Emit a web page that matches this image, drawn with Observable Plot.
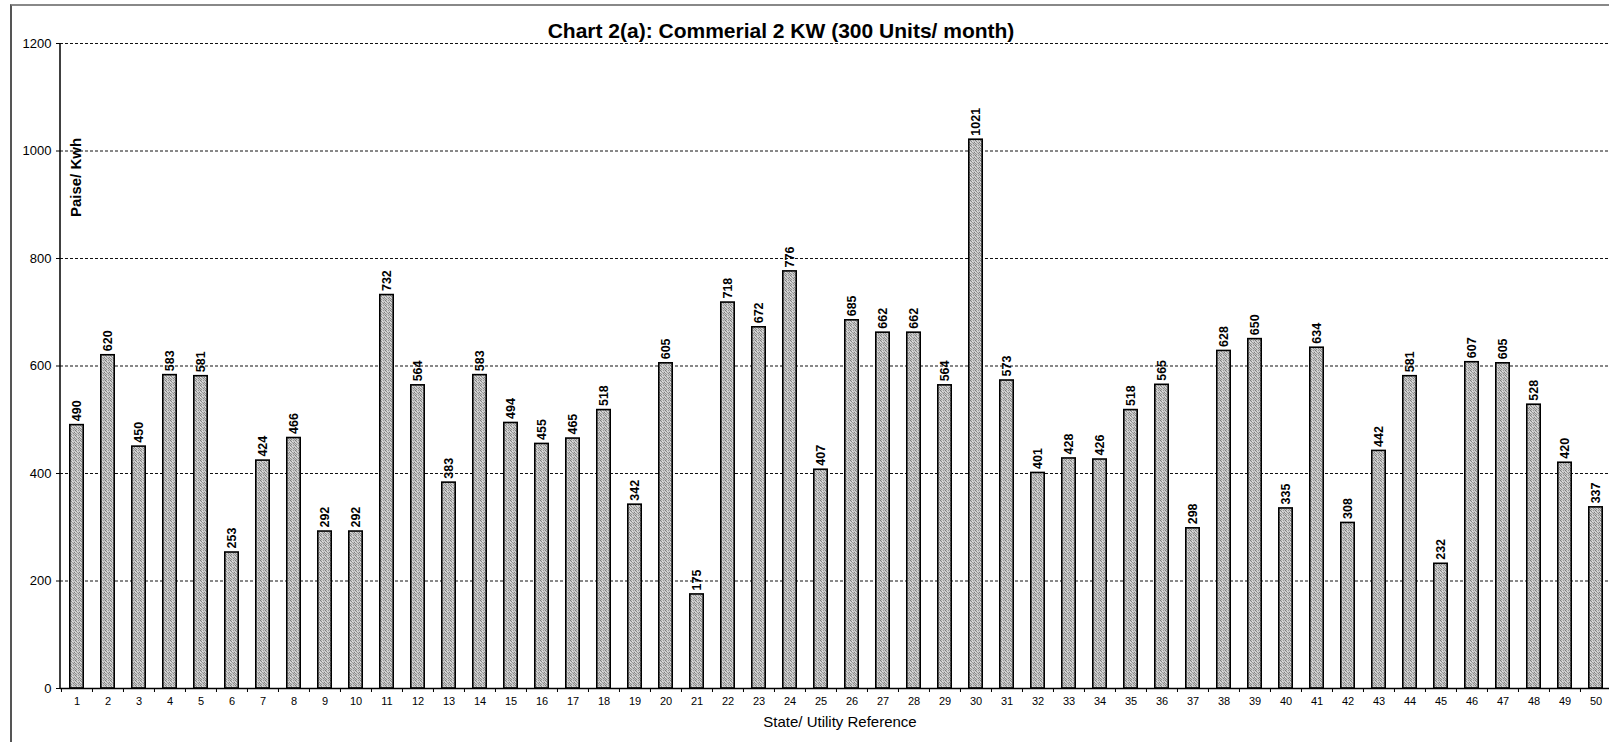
<!DOCTYPE html>
<html>
<head>
<meta charset="utf-8">
<script src="https://cdn.jsdelivr.net/npm/d3@7"></script>
<script src="https://cdn.jsdelivr.net/npm/@observablehq/plot@0.6"></script>
<style>
  html, body { margin: 0; padding: 0; background: #fff; }
  #wrap { position: relative; width: 1609px; height: 742px; overflow: hidden; }
  #frame { position: absolute; left: 10px; top: 4px; right: -5px; bottom: -5px;
           border-left: 2px solid #555; border-top: 2px solid #888; pointer-events: none; }
  svg { font-family: "Liberation Sans", Arial, sans-serif; }
</style>
</head>
<body>
<div id="wrap"><div id="frame"></div></div>
<script>
const titleText = "Chart 2(a): Commerial 2 KW (300 Units/ month)";
const yLabel = "Paise/ Kwh";
const xLabel = "State/ Utility Reference";
const refs = d3.range(1, 51).map(String);
const values = [490, 620, 450, 583, 581, 253, 424, 466, 292, 292,
                732, 564, 383, 583, 494, 455, 465, 518, 342, 605,
                175, 718, 672, 776, 407, 685, 662, 662, 564, 1021,
                573, 401, 428, 426, 518, 565, 298, 628, 650, 335,
                634, 308, 442, 581, 232, 607, 605, 528, 420, 337];
const yTicks = [0, 200, 400, 600, 800, 1000, 1200];
const gridTicks = [200, 400, 600, 800, 1000, 1200];

const data = refs.map((r, i) => ({ref: r, value: values[i]}));

const xRange = [60, 1612];
const step = (xRange[1] - xRange[0]) / refs.length;

const defs = () => {
  const g = d3.create("svg:defs");
  const p = g.append("pattern").attr("id", "stipple").attr("patternUnits", "userSpaceOnUse")
    .attr("width", 5).attr("height", 5);
  p.append("rect").attr("width", 5).attr("height", 5).attr("fill", "#c8c8c8");
  const dots = [[0,0,"#7a7a7a"],[3,0,"#9a9a9a"],[1,1,"#888"],[4,2,"#7f7f7f"],[2,2,"#a0a0a0"],
                [0,3,"#909090"],[3,3,"#858585"],[1,4,"#8c8c8c"],[4,4,"#9a9a9a"],[2,1,"#e0e0e0"],[0,2,"#e0e0e0"]];
  for (const [x, y, c] of dots) p.append("rect").attr("x", x).attr("y", y).attr("width", 1).attr("height", 1).attr("fill", c);
  return g.node();
};

const yAxisLine = (index, scales, values, dims) => {
  const g = d3.create("svg:line")
    .attr("x1", dims.marginLeft).attr("x2", dims.marginLeft)
    .attr("y1", scales.y(1200)).attr("y2", scales.y(0))
    .attr("stroke", "black").attr("stroke-width", 1.5);
  return g.node();
};

const chart = Plot.plot({
  width: 1609,
  height: 742,
  marginTop: 43,
  marginBottom: 54,
  marginLeft: 60,
  marginRight: 0,
  style: {fontFamily: "'Liberation Sans', Arial, sans-serif", background: "transparent", overflow: "visible"},
  x: {domain: refs, range: xRange, padding: 0},
  y: {domain: [0, 1200], range: [688, 43]},
  marks: [
    defs,
    Plot.ruleY(gridTicks, {stroke: "#111", strokeWidth: 1, strokeDasharray: "3,2"}),
    Plot.barY(data, {x: "ref", y: "value", fill: "url(#stipple)", stroke: "black", strokeWidth: 1.6, insetLeft: 8.8, insetRight: 8.8}),
    Plot.ruleY([0], {stroke: "black", strokeWidth: 1.5}),
    yAxisLine,
    Plot.axisY({ticks: yTicks, tickSize: 4, tickPadding: 5, fontSize: 13, tickFormat: d => String(d), label: null}),
    Plot.axisX({tickSize: 0, tickPadding: 9, fontSize: 11, label: null}),
    Plot.axisX({tickSize: 4, tickFormat: () => "", dx: -step / 2, label: null}),
    Plot.text(data, {x: "ref", y: "value", text: d => String(d.value), rotate: -90, textAnchor: "start", lineAnchor: "middle", dy: -4, fontSize: 12.5, fontWeight: "bold", fill: "black"}),
    Plot.text([titleText], {frameAnchor: "top", text: d => d, dy: -12, dx: -54, fontSize: 21, fontWeight: "bold", lineAnchor: "middle", fill: "black"}),
    Plot.text([xLabel], {frameAnchor: "bottom", text: d => d, dy: 34, dx: 5, fontSize: 15, lineAnchor: "middle", fill: "black"}),
    Plot.text([yLabel], {frameAnchor: "top-left", text: d => d, rotate: -90, dx: 16, dy: 134, textAnchor: "middle", lineAnchor: "middle", fontSize: 15, fontWeight: "bold", fill: "black"})
  ]
});
document.getElementById("wrap").prepend(chart);
</script>
</body>
</html>
